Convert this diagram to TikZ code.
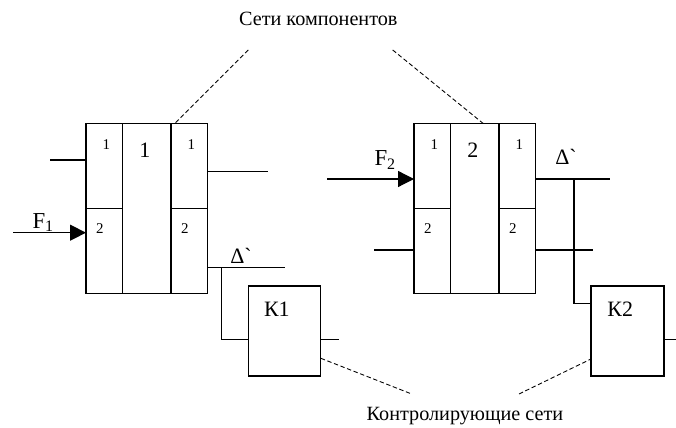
\documentclass[tikz,border=0pt]{standalone}
\usepackage{fontspec}
\setmainfont{Liberation Serif}[Ligatures=TeXOff]
\usetikzlibrary{arrows.meta,calc,positioning}

\begin{document}
\begin{tikzpicture}[
  x=0.02cm, y=-0.02cm,
  line width=0.7pt,
  % one port cell of a component net; the core column is twice as tall
  cell/.style={draw,inner sep=0pt,outer sep=0pt,minimum width=0.734cm,minimum height=1.7cm},
  core/.style={cell,minimum width=0.966cm,minimum height=3.4cm},
  ctrl/.style={draw,inner sep=0pt,outer sep=0pt,minimum width=1.44cm,minimum height=1.8cm},
  lbl/.style={inner sep=0pt,anchor=base,font=\fontsize{11.5}{13}\selectfont},
  big/.style={lbl,font=\fontsize{12.5}{15}\selectfont},
  pin/.style={lbl,font=\fontsize{8.5}{10}\selectfont},
  force/.style={-{Triangle[length=9pt,width=9pt]}},
  hint/.style={line width=0.5pt,dash pattern=on 2.5pt off 1.5pt},
]
\useasboundingbox (0,0) rectangle (676,428);

%--- the two component nets ----------------------------------------------------
\foreach \b/\xo in {1/86, 2/414} {
  \node[cell,anchor=north west] (b\b-l1) at (\xo,123.3) {};
  \node[cell,below=0pt of b\b-l1] (b\b-l2) {};
  \node[core,anchor=north west] (b\b-c) at (b\b-l1.north east) {};
  \node[cell,anchor=north west] (b\b-r1) at (b\b-c.north east) {};
  \node[cell,below=0pt of b\b-r1] (b\b-r2) {};
  % port numbers and net number
  \node[pin] at ($(b\b-l1.north)+(2,26.7)$) {1};
  \node[pin] at ($(b\b-l2.north)+(-4.5,25)$) {2};
  \node[pin] at ($(b\b-r1.north)+(2,26.7)$) {1};
  \node[pin] at ($(b\b-r2.north)+(-4.5,25)$) {2};
  \node[big] at ($(b\b-c.north)+(-2,34)$) {\b};
}

%--- net 1 ports and its control net -------------------------------------------
\coordinate (in1) at (50,160);
\draw (in1) -- (in1 -| b1-l1.west);
\coordinate (f1) at (13,232.7);
\draw[force] (f1) -- (f1 -| b1-l2.west);
\node[big,font=\fontsize{13}{15}\selectfont] at (43.3,228.3) {F\textsubscript{1}};
\coordinate (out1) at (268,171.7);
\draw (out1 -| b1-r1.east) -- (out1);
\coordinate (dl1) at (285,267.7);
\draw (dl1 -| b1-r2.east) -- (dl1);
\node[big] at (241,263.3) {Δ`};

\node[ctrl] (k1) at (284.85,331) {};
\node[big] at ($(k1.north)+(-8,30.7)$) {К1};
\coordinate (tap1) at (221.7,267.7);
\draw (tap1) |- ([yshift=-0.166cm]k1.west);
\draw ([yshift=-0.166cm]k1.east) -- ++(18.3,0);

%--- net 2 ports and its control net -------------------------------------------
\coordinate (f2) at (327.3,179);
\draw[force] (f2) -- (f2 -| b2-l1.west);
\node[big,font=\fontsize{13}{15}\selectfont] at (385.3,166) {F\textsubscript{2}};
\coordinate (in2) at (374.3,250);
\draw (in2) -- (in2 -| b2-l2.west);
\coordinate (dl2) at (610,179);
\draw (dl2 -| b2-r1.east) -- (dl2);
\node[big] at (566,165) {Δ`};
\coordinate (out2) at (593.3,250);
\draw (out2 -| b2-r2.east) -- (out2);

\node[ctrl,minimum width=1.46cm] (k2) at (627.5,331) {};
\node[big] at ($(k2.north)+(-7.3,30.7)$) {К2};
\coordinate (tap2) at (574,179);
\draw (tap2) |- ([yshift=0.554cm]k2.west);
\draw ([yshift=-0.166cm]k2.east) -- ++(14,0);

%--- captions with dashed pointers ---------------------------------------------
\node[lbl] (nets) at (318.3,26) {Сети компонентов};
\coordinate (n1) at (248.3,50);
\coordinate (n2) at (392.7,50);
\draw[hint] (n1) -- ([xshift=0.08cm]b1-r1.north west);
\draw[hint] (n2) -- ([xshift=0.163cm]b2-c.north);

\node[lbl] (ctl) at (465,420.7) {Контролирующие сети};
\coordinate (m1) at (411.7,394);
\coordinate (m2) at (519,394);
\draw[hint] ([yshift=-0.546cm]k1.east) -- (m1);
\draw[hint] (m2) -- ([yshift=-0.56cm]k2.west);

\end{tikzpicture}
\end{document}
